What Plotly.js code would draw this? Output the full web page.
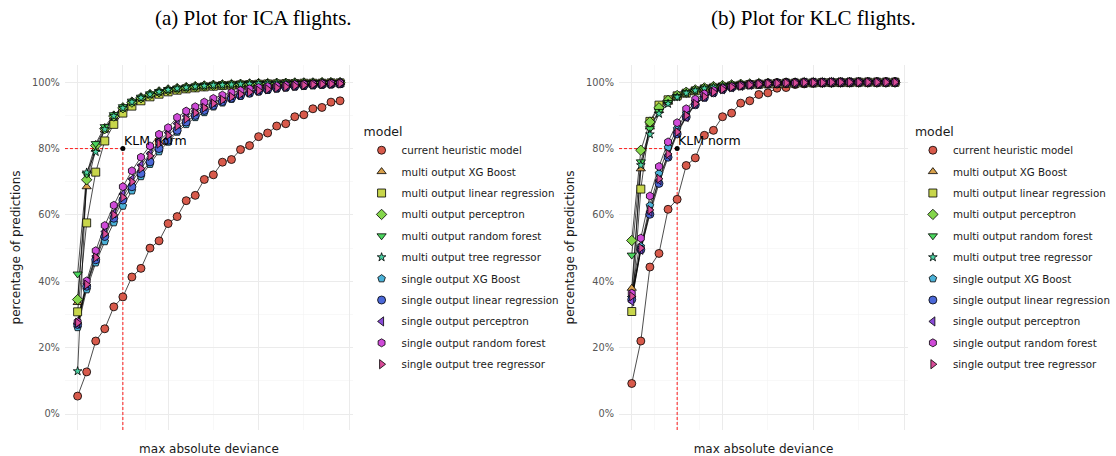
<!DOCTYPE html>
<html>
<head>
<meta charset="utf-8">
<script src="https://cdn.plot.ly/plotly-3.0.1.min.js"></script>
<style>html,body{margin:0;padding:0;background:#fff;}#chart{width:1116px;height:456px;}</style>
</head>
<body>
<div id="chart"></div>
<script>
// ---------- data ----------
const deviance = [0,1,2,3,4,5,6,7,8,9,10,11,12,13,14,15,16,17,18,19,20,21,22,23,24,25,26,27,28,29];

const modelNames = [
  "current heuristic model",
  "multi output XG Boost",
  "multi output linear regression",
  "multi output perceptron",
  "multi output random forest",
  "multi output tree regressor",
  "single output XG Boost",
  "single output linear regression",
  "single output perceptron",
  "single output random forest",
  "single output tree regressor"
];

// (a) ICA flights, percentage of predictions
const icaHeuristic   = [5.4,12.7,22.0,25.7,32.3,35.3,41.3,43.9,50.0,52.2,57.4,59.5,64.3,65.9,70.7,72.1,75.9,76.7,79.7,80.9,83.6,84.7,86.8,87.5,89.6,90.2,92.0,92.4,94.0,94.4];
const icaMultiXGB    = [33.6,68.5,79.8,85.6,89.5,92.0,93.8,95.2,96.2,97.0,97.6,98.0,98.4,98.7,98.9,99.1,99.2,99.3,99.4,99.5,99.6,99.6,99.7,99.7,99.8,99.8,99.8,99.9,99.9,99.9];
const icaMultiLinReg = [30.8,57.6,72.9,82.3,87.3,90.7,92.8,94.4,95.6,96.4,97.1,97.6,98.0,98.3,98.6,98.8,99.0,99.1,99.2,99.3,99.4,99.5,99.5,99.6,99.6,99.7,99.7,99.7,99.8,99.8];
const icaMultiPerc   = [34.5,70.6,80.9,86.0,89.8,92.3,94.0,95.3,96.3,97.1,97.7,98.1,98.4,98.7,98.9,99.1,99.2,99.3,99.4,99.5,99.6,99.6,99.7,99.7,99.8,99.8,99.8,99.9,99.9,99.9];
const icaMultiRF     = [42.2,72.3,81.5,86.6,90.2,92.6,94.3,95.5,96.5,97.2,97.8,98.2,98.5,98.8,99.0,99.2,99.3,99.4,99.5,99.6,99.6,99.7,99.7,99.8,99.8,99.8,99.9,99.9,99.9,99.9];
const icaMultiTree   = [12.9,72.8,79.0,85.8,89.8,92.2,94.0,95.3,96.3,97.1,97.7,98.1,98.4,98.7,98.9,99.1,99.2,99.3,99.4,99.5,99.6,99.6,99.7,99.7,99.8,99.8,99.8,99.9,99.9,99.9];
const icaSingleXGB   = [26.1,37.5,45.6,52.0,57.7,62.7,67.3,71.6,75.3,79.1,82.0,85.0,87.3,89.4,90.9,92.6,93.8,94.9,95.8,96.6,97.1,97.6,98.0,98.3,98.6,98.8,99.0,99.2,99.3,99.4];
const icaSingleLinReg= [27.0,38.5,46.5,53.5,59.0,64.5,68.5,72.5,76.0,80.0,82.5,85.5,88.0,90.0,91.5,93.0,94.2,95.2,96.0,96.7,97.3,97.8,98.2,98.5,98.8,99.0,99.2,99.3,99.4,99.5];
const icaSinglePerc  = [27.3,39.3,47.6,55.0,60.5,66.3,70.8,75.0,78.5,82.3,84.8,87.5,89.8,91.3,92.8,94.0,95.1,96.0,96.7,97.3,97.8,98.2,98.5,98.8,99.0,99.2,99.3,99.5,99.6,99.7];
const icaSingleRF    = [27.8,40.1,49.2,56.8,62.9,68.5,73.3,77.4,80.8,84.3,86.3,89.4,91.3,92.6,94.0,95.1,96.1,96.9,97.5,98.0,98.4,98.7,98.9,99.1,99.3,99.4,99.5,99.6,99.7,99.8];
const icaSingleTree  = [27.5,39.0,47.2,54.3,60.0,65.3,70.0,74.0,77.8,81.5,84.0,86.8,89.0,90.8,92.3,93.6,94.7,95.6,96.4,97.0,97.5,97.9,98.3,98.6,98.9,99.1,99.3,99.4,99.5,99.6];

// (b) KLC flights, percentage of predictions
const klcHeuristic   = [9.2,22.0,44.3,48.4,61.7,64.7,74.9,77.2,84.0,85.5,89.6,90.7,93.7,94.4,96.3,96.8,98.2,98.4,99.3,99.5,99.7,99.8,99.8,99.9,99.9,100,100,100,100,100];
const klcMultiXGB    = [37.9,73.9,86.5,91.5,94.0,95.8,96.9,97.6,98.2,98.6,98.9,99.1,99.3,99.4,99.5,99.6,99.7,99.7,99.8,99.8,99.9,99.9,99.9,99.9,100,100,100,100,100,100];
const klcMultiLinReg = [30.9,67.8,88.2,93.1,94.7,95.9,96.7,97.4,98.0,98.3,98.6,98.9,99.1,99.3,99.4,99.5,99.6,99.7,99.7,99.8,99.8,99.9,99.9,99.9,99.9,100,100,100,100,100];
const klcMultiPerc   = [52.3,79.5,88.0,92.3,94.5,96.0,97.0,97.7,98.3,98.7,99.0,99.2,99.4,99.5,99.6,99.7,99.7,99.8,99.8,99.9,99.9,99.9,99.9,100,100,100,100,100,100,100];
const klcMultiRF     = [47.9,76.0,86.0,91.2,93.9,95.7,96.9,97.6,98.2,98.6,98.9,99.1,99.3,99.4,99.5,99.6,99.7,99.7,99.8,99.8,99.9,99.9,99.9,99.9,100,100,100,100,100,100];
const klcMultiTree   = [35.0,75.0,84.3,90.5,93.5,95.5,96.7,97.5,98.1,98.5,98.8,99.1,99.3,99.4,99.5,99.6,99.7,99.7,99.8,99.8,99.9,99.9,99.9,99.9,100,100,100,100,100,100];
const klcSingleXGB   = [35.2,50.5,62.8,72.5,80.3,86.0,90.7,94.2,96.0,97.2,98.0,98.6,99.0,99.3,99.5,99.6,99.7,99.8,99.8,99.9,99.9,99.9,100,100,100,100,100,100,100,100];
const klcSingleLinReg= [34.5,49.5,60.2,69.5,77.4,84.4,89.5,93.2,95.4,96.8,97.8,98.4,98.9,99.2,99.4,99.6,99.7,99.8,99.8,99.9,99.9,99.9,100,100,100,100,100,100,100,100];
const klcSinglePerc  = [34.0,49.5,61.0,70.5,78.0,85.0,89.5,93.5,95.6,97.0,97.9,98.5,98.9,99.2,99.4,99.6,99.7,99.8,99.8,99.9,99.9,99.9,100,100,100,100,100,100,100,100];
const klcSingleRF    = [36.4,53.0,65.7,74.6,82.0,87.8,92.0,94.9,96.5,97.5,98.2,98.7,99.0,99.3,99.5,99.6,99.7,99.8,99.8,99.9,99.9,99.9,100,100,100,100,100,100,100,100];
const klcSingleTree  = [35.5,50.0,61.5,70.9,78.4,85.0,90.0,93.5,95.6,97.0,97.9,98.5,98.9,99.2,99.4,99.6,99.7,99.8,99.8,99.9,99.9,99.9,100,100,100,100,100,100,100,100];

const klmNormX = [5];
const klmNormY = [80];

const yTickVals = [0,20,40,60,80,100];
const yTickText = ["0%","20%","40%","60%","80%","100%"];
const xBreaks = [0,5,10,20,30];

// ---------- styling ----------
const colors = ["#D85A4B","#D8A04B","#C8D64B","#84D64B","#4BD65E","#4BD6A6","#4BB2D8","#4B68D8","#8A4BD8","#CF4BD8","#D84B98"];
const symbols = ["circle","triangle-up","square","diamond","triangle-down","star","pentagon","circle","triangle-left","hexagon","triangle-right"];

const icaSeries = [icaHeuristic,icaMultiXGB,icaMultiLinReg,icaMultiPerc,icaMultiRF,icaMultiTree,icaSingleXGB,icaSingleLinReg,icaSinglePerc,icaSingleRF,icaSingleTree];
const klcSeries = [klcHeuristic,klcMultiXGB,klcMultiLinReg,klcMultiPerc,klcMultiRF,klcMultiTree,klcSingleXGB,klcSingleLinReg,klcSinglePerc,klcSingleRF,klcSingleTree];

const traces = [];
function addPanel(series, xa, ya, legendName, tag) {
  series.forEach((ys, k) => {
    traces.push({x: deviance, y: ys, xaxis: xa, yaxis: ya, type: 'scatter', mode: 'lines',
      line: {color: '#000', width: 0.7}, showlegend: false, hoverinfo: 'skip'});
  });
  series.forEach((ys, k) => {
    traces.push({x: deviance, y: ys, xaxis: xa, yaxis: ya, type: 'scatter', mode: 'markers',
      name: modelNames[k], legend: legendName, legendgroup: tag + k,
      marker: {symbol: symbols[k], color: colors[k], size: symbols[k]==='star' ? 6.5 : 8,
               line: {color: '#000', width: 0.8}}});
  });
  traces.push({x: klmNormX, y: klmNormY, xaxis: xa, yaxis: ya, type: 'scatter', mode: 'markers',
    marker: {color: '#000', size: 5}, showlegend: false, hoverinfo: 'skip'});
}
addPanel(icaSeries, 'x', 'y', 'legend', 'a');
addPanel(klcSeries, 'x2', 'y2', 'legend2', 'b');

const gridMajor = '#EBEBEB', gridMinor = '#F4F4F4';
function xAxis(domain, anchor) {
  return {domain: domain, anchor: anchor, range: [-1.4, 30.43], tickvals: xBreaks, showticklabels: false,
    ticks: '', showgrid: true, gridcolor: gridMajor, gridwidth: 1, zeroline: false, showline: false,
    minor: {tickvals: [2.5,7.5,15,25], showgrid: true, gridcolor: gridMinor, gridwidth: 0.6},
    title: {text: 'max absolute deviance', font: {size: 12, color: '#1a1a1a'}, standoff: 16}, automargin: false};
}
function yAxis(anchor) {
  return {domain: [0.057, 0.8575], anchor: anchor, range: [-4.82, 105.2], tickvals: yTickVals, ticktext: yTickText,
    ticks: '', ticklabelstandoff: 4, tickfont: {size: 9.8, color: '#555'},
    showgrid: true, gridcolor: gridMajor, gridwidth: 1, zeroline: false, showline: false,
    minor: {tickvals: [10,30,50,70,90], showgrid: true, gridcolor: gridMinor, gridwidth: 0.6},
    title: {text: 'percentage of predictions', font: {size: 12, color: '#1a1a1a'}, standoff: 8}, automargin: false};
}

const legendBase = {y: 0.738, yanchor: 'top', xanchor: 'left', bgcolor: 'rgba(0,0,0,0)',
  font: {size: 10.3, color: '#1a1a1a'}, title: {text: 'model', font: {size: 12.5, color: '#1a1a1a'}},
  tracegroupgap: 2.4, traceorder: 'grouped'};

const dashLine = {color: '#FF0000', width: 0.9, dash: '3px,2px'};

const layout = {
  width: 1116, height: 456,
  margin: {l: 0, r: 0, t: 0, b: 0},
  paper_bgcolor: '#fff', plot_bgcolor: '#fff',
  font: {family: 'DejaVu Sans, sans-serif', color: '#1a1a1a'},
  xaxis: xAxis([0.0582, 0.3163], 'y'),
  yaxis: yAxis('x'),
  xaxis2: xAxis([0.5547, 0.8136], 'y2'),
  yaxis2: yAxis('x2'),
  legend: Object.assign({}, legendBase, {x: 0.324}),
  legend2: Object.assign({}, legendBase, {x: 0.818}),
  shapes: [
    {type: 'line', xref: 'x', yref: 'y', x0: -1.4, x1: klmNormX[0], y0: klmNormY[0], y1: klmNormY[0], line: dashLine, layer: 'between'},
    {type: 'line', xref: 'x', yref: 'y', x0: klmNormX[0], x1: klmNormX[0], y0: -4.82, y1: klmNormY[0], line: dashLine, layer: 'between'},
    {type: 'line', xref: 'x2', yref: 'y2', x0: -1.4, x1: klmNormX[0], y0: klmNormY[0], y1: klmNormY[0], line: dashLine, layer: 'between'},
    {type: 'line', xref: 'x2', yref: 'y2', x0: klmNormX[0], x1: klmNormX[0], y0: -4.82, y1: klmNormY[0], line: dashLine, layer: 'between'}
  ],
  annotations: [
    {xref: 'x', yref: 'y', x: klmNormX[0], y: klmNormY[0], text: 'KLM norm', showarrow: false, xanchor: 'left', yanchor: 'bottom', xshift: -1, yshift: -1, font: {size: 12.5, color: '#000'}},
    {xref: 'x2', yref: 'y2', x: klmNormX[0], y: klmNormY[0], text: 'KLM norm', showarrow: false, xanchor: 'left', yanchor: 'bottom', xshift: -1, yshift: -1, font: {size: 12.5, color: '#000'}},
    {xref: 'paper', yref: 'paper', x: 253/1116, y: 1 - 18/456, text: '(a) Plot for ICA flights.', showarrow: false, xanchor: 'center', yanchor: 'middle', font: {family: 'Liberation Serif, serif', size: 21, color: '#000'}},
    {xref: 'paper', yref: 'paper', x: 813/1116, y: 1 - 18/456, text: '(b) Plot for KLC flights.', showarrow: false, xanchor: 'center', yanchor: 'middle', font: {family: 'Liberation Serif, serif', size: 21, color: '#000'}}
  ]
};

Plotly.newPlot('chart', traces, layout, {displayModeBar: false, staticPlot: true});
</script>
</body>
</html>
